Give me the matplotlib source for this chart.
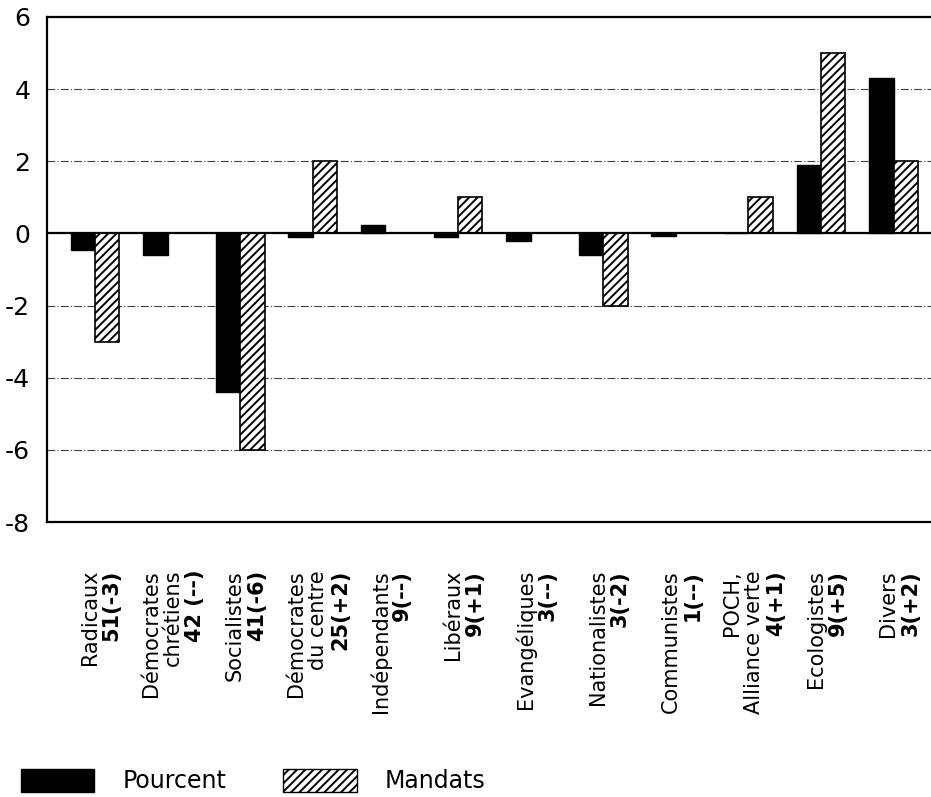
import numpy as np
import matplotlib
matplotlib.use("Agg")
import matplotlib.pyplot as plt
from matplotlib.patches import Patch
from matplotlib.transforms import blended_transform_factory

# parties: name lines, bold seat line
party_lines = [
    ["Radicaux"],
    ["Démocrates", "chrétiens"],
    ["Socialistes"],
    ["Démocrates", "du centre"],
    ["Indépendants"],
    ["Libéraux"],
    ["Evangéliques"],
    ["Nationalistes"],
    ["Communistes"],
    ["POCH,", "Alliance verte"],
    ["Ecologistes"],
    ["Divers"],
]
seats = ["51(-3)", "42 (--)", "41(-6)", "25(+2)", "9(--)", "9(+1)",
         "3(--)", "3(-2)", "1(--)", "4(+1)", "9(+5)", "3(+2)"]

pourcent = [-0.45, -0.6, -4.4, -0.1, 0.22, -0.1, -0.22, -0.6, -0.08, 0.0, 1.9, 4.3]
mandats = [-3, 0, -6, 2, 0, 1, 0, -2, 0, 1, 5, 2]

plt.rcParams['font.family'] = ['DejaVu Sans']
plt.rcParams['hatch.linewidth'] = 1.4

fig = plt.figure(figsize=(9.31, 7.97), dpi=100)
ax = fig.add_axes([47 / 931, 275 / 797, 884 / 931, 505 / 797])

x = np.arange(len(seats))
w = 0.337
ax.bar(x - w / 2, pourcent, w, color='black', edgecolor='black', linewidth=1, zorder=3)
ax.bar(x + w / 2, mandats, w, color='white', edgecolor='black', hatch='////',
       linewidth=1.2, zorder=3)

ax.set_xlim(-0.661, 11.515)
ax.set_ylim(-8, 6)
ax.set_yticks([-8, -6, -4, -2, 0, 2, 4, 6])
ax.set_yticklabels(['-8', '-6', '-4', '-2', '0', '2', '4', '6'])
ax.tick_params(axis='y', length=0, pad=12, labelsize=18)
ax.set_xticks([])

for yv in [-6, -4, -2, 2, 4]:
    ax.axhline(yv, color='0.25', lw=0.8, linestyle=(0, (7, 2, 1, 2)), zorder=1)
ax.axhline(0, color='black', lw=1.6, zorder=4)

ax.spines['right'].set_visible(False)
for s in ['left', 'top', 'bottom']:
    ax.spines[s].set_linewidth(1.6)

# category labels, rotated, last line bold
trans = blended_transform_factory(ax.transData, ax.transAxes)
spacing = 15.8  # points between columns
for i, lines in enumerate(party_lines):
    all_lines = lines + [seats[i]]
    n = len(all_lines)
    for k, txt in enumerate(all_lines):
        off = (k - (n - 1) / 2) * spacing + 4
        ax.annotate(txt, xy=(x[i], 0), xycoords=trans,
                    xytext=(off, -34.5), textcoords='offset points',
                    rotation=90, ha='center', va='top', fontsize=15,
                    fontweight='bold' if k == n - 1 else 'normal',
                    annotation_clip=False)

handles = [Patch(facecolor='black', edgecolor='black', label='Pourcent'),
           Patch(facecolor='white', edgecolor='black', hatch='////', label='Mandats')]
fig.legend(handles=handles, loc='lower left', bbox_to_anchor=(0.0, -0.022), ncol=2,
           frameon=False, fontsize=17, handlelength=3.1, handleheight=1.1,
           handletextpad=1.2, columnspacing=2.4)

fig.savefig('out.png', dpi=100)
